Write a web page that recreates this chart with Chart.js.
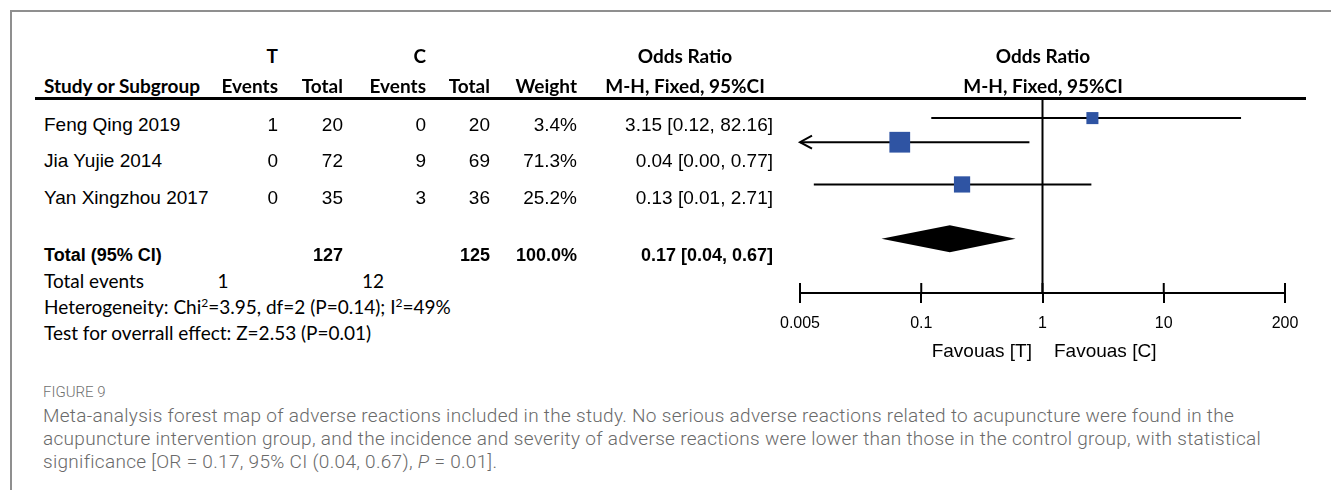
<!DOCTYPE html>
<html>
<head>
<meta charset="utf-8">
<script src="https://cdn.jsdelivr.net/npm/chart.js@4.4.1/dist/chart.umd.min.js"></script>
<style>
  html, body { margin: 0; padding: 0; background: #fff; }
  body { width: 1331px; height: 490px; position: relative; overflow: hidden; }
  .frame { position: absolute; left: 10px; top: 10px; width: 1330px; height: 490px;
           border-top: 2px solid #8f8f8f; border-left: 2px solid #8f8f8f; box-sizing: border-box; }
  .t { position: absolute; white-space: nowrap; line-height: 24px; height: 24px; color: #000; }
  .hdr { font-family: Lato, "Open Sans", sans-serif; font-weight: 700; font-size: 19px; }
  .row { font-family: "Liberation Sans", Arial, sans-serif; font-size: 19px; }
  .rowb { font-family: "Liberation Sans", Arial, sans-serif; font-size: 18px; font-weight: 700; }
  .cal { font-family: Lato, "Open Sans", sans-serif; font-size: 19px; }
  .cal sup { font-size: 12px; line-height: 0; vertical-align: 7px; }
  .cap { font-family: Roboto, "Open Sans", sans-serif; color: #6a6a6a; font-size: 19px; font-weight: 300; letter-spacing: 0.3px; }
  .figlbl { font-family: Roboto, "Open Sans", sans-serif; color: #707070; font-size: 15px; font-weight: 300; }
  .rule { position: absolute; left: 35px; top: 97px; width: 1271px; height: 3px; background: #000; }
  #forest { position: absolute; left: 760px; top: 60px; }
</style>
</head>
<body>
<div class="frame"></div>
<div class="rule"></div>
<canvas id="forest" width="560" height="330"></canvas>
<div id="texts"></div>
<script>
// ---------------- data ----------------
const studies   = ['Feng Qing 2019', 'Jia Yujie 2014', 'Yan Xingzhou 2017'];
const tEvents   = [1, 0, 0];
const tTotal    = [20, 72, 35];
const cEvents   = [0, 9, 3];
const cTotal    = [20, 69, 36];
const weights   = [3.4, 71.3, 25.2];
const orValue   = [3.15, 0.04, 0.13];
const orLower   = [0.12, 0.00, 0.01];
const orUpper   = [82.16, 0.77, 2.71];

const totalT = 127, totalC = 125, totalWeight = 100.0;
const totalOR = [0.17, 0.04, 0.67];        // estimate, lower, upper
const totalEvents = [1, 12];               // T, C
const hetChi2 = 3.95, hetDf = 2, hetP = 0.14, hetI2 = 49;
const effZ = 2.53, effP = 0.01;

const plotEst   = [2.58, 0.0665, 0.217];
const plotLower = [0.121, 0.001, 0.013];   // 0.001 -> off the axis, drawn as an arrow
const plotUpper = [43.4, 0.78, 2.53];
const plotTotal = [0.172, 0.047, 0.60];    // diamond: estimate, lower, upper

const tickValues = [0.01, 0.1, 1, 10, 100];
const tickLabels = ['0.005', '0.1', '1', '10', '200'];
const favourLabels = ['Favouas [T]', 'Favouas [C]'];

// ---------------- layout (not data) ----------------
const rowY   = [125, 161, 198];
const rowSlots = [0.75, 1.75, 3.5];   // vertical slots of study marks on the plot's y scale
const totalSlot = 5.75;
const col = { te: 278, tt: 343, ce: 426, ct: 490, w: 577, or: 773 };

const host = document.getElementById('texts');
function place(html, x, y, align, cls) {
  const d = document.createElement('div');
  d.className = 't ' + cls;
  d.innerHTML = html;
  d.style.top = (y - 12) + 'px';
  if (align === 'left') d.style.left = x + 'px';
  else if (align === 'right') { d.style.right = (1331 - x) + 'px'; }
  else { d.style.left = (x - 200) + 'px'; d.style.width = '400px'; d.style.textAlign = 'center'; }
  host.appendChild(d);
  return d;
}
const f2 = v => v.toFixed(2);

// header
place('T', col.te, 56, 'right', 'hdr');
place('C', col.ce, 56, 'right', 'hdr');
place('Odds Ratio', 685, 56, 'center', 'hdr');
place('Odds Ratio', 1043, 56, 'center', 'hdr');
place('Study or Subgroup', 44, 86, 'left', 'hdr');
place('Events', col.te, 86, 'right', 'hdr');
place('Total', col.tt, 86, 'right', 'hdr');
place('Events', col.ce, 86, 'right', 'hdr');
place('Total', col.ct, 86, 'right', 'hdr');
place('Weight', col.w, 86, 'right', 'hdr');
place('M-H, Fixed, 95%CI', 685, 86, 'center', 'hdr');
place('M-H, Fixed, 95%CI', 1043, 86, 'center', 'hdr');

// study rows
studies.forEach((s, i) => {
  const y = rowY[i];
  place(s, 44, y, 'left', 'row');
  place(String(tEvents[i]), col.te, y, 'right', 'row');
  place(String(tTotal[i]), col.tt, y, 'right', 'row');
  place(String(cEvents[i]), col.ce, y, 'right', 'row');
  place(String(cTotal[i]), col.ct, y, 'right', 'row');
  place(weights[i].toFixed(1) + '%', col.w, y, 'right', 'row');
  place(f2(orValue[i]) + ' [' + f2(orLower[i]) + ', ' + f2(orUpper[i]) + ']', col.or, y, 'right', 'row');
});

// totals
place('Total (95% CI)', 44, 255, 'left', 'rowb');
place(String(totalT), col.tt, 255, 'right', 'rowb');
place(String(totalC), col.ct, 255, 'right', 'rowb');
place(totalWeight.toFixed(1) + '%', col.w, 255, 'right', 'rowb');
place(f2(totalOR[0]) + ' [' + f2(totalOR[1]) + ', ' + f2(totalOR[2]) + ']', col.or, 255, 'right', 'rowb');

place('Total events', 44, 281, 'left', 'cal');
place(String(totalEvents[0]), 223, 281, 'center', 'cal');
place(String(totalEvents[1]), 373, 281, 'center', 'cal');
place('Heterogeneity: Chi<sup>2</sup>=' + hetChi2.toFixed(2) + ', df=' + hetDf + ' (P=' + hetP.toFixed(2) +
      '); I<sup>2</sup>=' + hetI2 + '%', 44, 307, 'left', 'cal');
place('Test for overrall effect: Z=' + effZ.toFixed(2) + ' (P=' + effP.toFixed(2) + ')', 44, 333, 'left', 'cal');

// favour labels
place(favourLabels[0], 1032, 351, 'right', 'row');
place(favourLabels[1], 1054, 351, 'left', 'row');

// caption
place('FIGURE 9', 43, 392, 'left', 'figlbl');
place('Meta-analysis forest map of adverse reactions included in the study. No serious adverse reactions related to acupuncture were found in the', 43, 416, 'left', 'cap');
place('acupuncture intervention group, and the incidence and severity of adverse reactions were lower than those in the control group, with statistical', 43, 439, 'left', 'cap');
place('significance [OR = 0.17, 95% CI (0.04, 0.67), <i>P</i> = 0.01].', 43, 462, 'left', 'cap');

// ---------------- forest plot ----------------
const BLUE = '#2f54a3';
const sideFromWeight = w => 9.6 + 1.32 * Math.sqrt(w);

const forestPlugin = {
  id: 'forestExtras',
  beforeDatasetsDraw(chart) {
    const { ctx, chartArea: a, scales: { x } } = chart;
    ctx.save();
    ctx.strokeStyle = '#000';
    ctx.lineWidth = 2;
    const x1 = x.getPixelForValue(1);
    ctx.beginPath(); ctx.moveTo(x1, a.top); ctx.lineTo(x1, a.bottom); ctx.stroke();
    tickValues.forEach(v => {
      const px = x.getPixelForValue(v);
      ctx.beginPath(); ctx.moveTo(px, a.bottom - 10); ctx.lineTo(px, a.bottom); ctx.stroke();
    });
    ctx.restore();
  },
  afterDatasetsDraw(chart) {
    const { ctx, chartArea: a, scales: { x, y } } = chart;
    ctx.save();
    ctx.strokeStyle = '#000';
    ctx.lineWidth = 2;
    plotLower.forEach((lo, i) => {
      if (lo < x.min) {
        const py = y.getPixelForValue(rowSlots[i]);
        const px = a.left;
        ctx.beginPath();
        ctx.moveTo(px + 12, py - 6.5); ctx.lineTo(px, py); ctx.lineTo(px + 12, py + 6.5);
        ctx.stroke();
      }
    });
    const py = y.getPixelForValue(totalSlot);
    const xl = x.getPixelForValue(plotTotal[1]);
    const xc = x.getPixelForValue(plotTotal[0]);
    const xr = x.getPixelForValue(plotTotal[2]);
    ctx.fillStyle = '#000';
    ctx.beginPath();
    ctx.moveTo(xl, py); ctx.lineTo(xc, py - 13.5); ctx.lineTo(xr, py); ctx.lineTo(xc, py + 13.5);
    ctx.closePath(); ctx.fill();
    ctx.restore();
  }
};

const ciSets = studies.map((s, i) => ({
  label: s + ' CI',
  data: [{ x: plotLower[i], y: rowSlots[i] }, { x: plotUpper[i], y: rowSlots[i] }],
  showLine: true,
  borderColor: '#000',
  borderWidth: 2,
  pointRadius: 0,
  order: 2
}));

const squares = {
  label: 'Estimates',
  data: plotEst.map((v, i) => ({ x: v, y: rowSlots[i] })),
  pointStyle: 'rect',
  pointRadius: weights.map(w => sideFromWeight(w) / Math.SQRT2),
  backgroundColor: BLUE,
  borderColor: BLUE,
  borderWidth: 0,
  order: 1
};

new Chart(document.getElementById('forest'), {
  type: 'scatter',
  data: { datasets: [...ciSets, squares] },
  options: {
    responsive: false,
    animation: false,
    events: [],
    layout: { padding: { left: 40, right: 35, top: 40, bottom: 0 } },
    plugins: { legend: { display: false }, tooltip: { enabled: false } },
    scales: {
      x: {
        type: 'logarithmic',
        min: tickValues[0],
        max: tickValues[tickValues.length - 1],
        afterBuildTicks: s => { s.ticks = tickValues.map(v => ({ value: v })); },
        afterFit: s => { s.height = 97; },
        grid: { display: true, drawOnChartArea: false, drawTicks: true, tickLength: 10, color: '#000', lineWidth: 2 },
        border: { display: true, color: '#000', width: 2 },
        ticks: {
          autoSkip: false, maxRotation: 0, padding: 11, color: '#000',
          font: { family: 'Liberation Sans', size: 16 },
          callback: (v, i) => tickLabels[i]
        }
      },
      y: { type: 'linear', min: 0, max: 8, reverse: true, display: false }
    }
  },
  plugins: [forestPlugin]
});
</script>
</body>
</html>
